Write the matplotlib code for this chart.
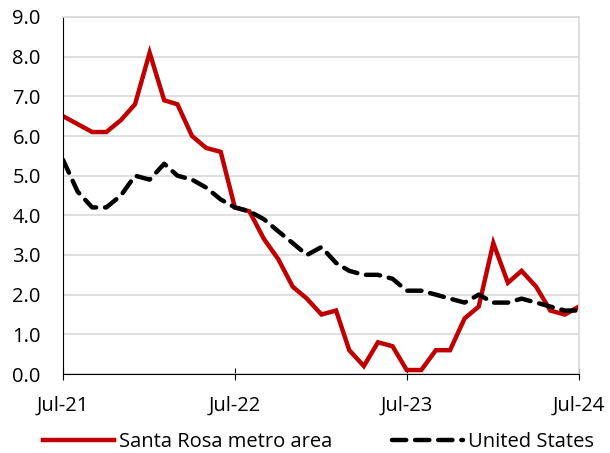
import matplotlib
matplotlib.use("Agg")
import matplotlib.pyplot as plt
import matplotlib.dates as mdates
import pandas as pd

# ── Data (year-over-year %, monthly Jul-21 .. Jul-24) ─────────────────────────
months = pd.date_range("2021-07-01", "2024-07-01", freq="MS")

santa_rosa = [6.5, 6.3, 6.1, 6.1, 6.4, 6.8, 8.1, 6.9, 6.8, 6.0, 5.7, 5.6,
              4.2, 4.1, 3.4, 2.9, 2.2, 1.9, 1.5, 1.6, 0.6, 0.2, 0.8, 0.7,
              0.1, 0.1, 0.6, 0.6, 1.4, 1.7, 3.3, 2.3, 2.6, 2.2, 1.6, 1.5,
              1.7]

united_states = [5.4, 4.6, 4.2, 4.2, 4.5, 5.0, 4.9, 5.3, 5.0, 4.9, 4.7, 4.4,
                 4.2, 4.1, 3.9, 3.6, 3.3, 3.0, 3.2, 2.8, 2.6, 2.5, 2.5, 2.4,
                 2.1, 2.1, 2.0, 1.9, 1.8, 2.0, 1.8, 1.8, 1.9, 1.8, 1.7, 1.6,
                 1.6]

tick_dates = pd.to_datetime(["2021-07-01", "2022-07-01", "2023-07-01", "2024-07-01"])

plt.rcParams["font.family"] = ["Open Sans", "DejaVu Sans"]

fig = plt.figure(figsize=(6.10, 4.53), dpi=100)
ax = fig.add_axes([63 / 610, 79 / 453, 516 / 610, 357 / 453])

ax.plot(months, santa_rosa, color="#c00000", linewidth=3.2,
        solid_joinstyle="miter", label="Santa Rosa metro area")
ax.plot(months, united_states, color="black", linewidth=3.2,
        linestyle=(0, (3.2, 2.0)), dash_capstyle="round",
        label="United States")

ax.set_ylim(0, 9)
ax.set_yticks(range(10))
ax.yaxis.set_major_formatter(plt.FuncFormatter(lambda v, _: f"{v:.1f}"))
ax.set_xlim(months[0], months[-1])
ax.set_xticks(tick_dates)
ax.xaxis.set_major_formatter(mdates.DateFormatter("%b-%y"))

ax.grid(axis="y", color="#d9d9d9", linewidth=1.2)
ax.set_axisbelow(True)

for side in ("top", "right"):
    ax.spines[side].set_color("#d9d9d9")
    ax.spines[side].set_linewidth(1.2)
ax.spines["left"].set_color("black")
ax.spines["bottom"].set_color("black")

ax.tick_params(axis="y", length=0, labelsize=14.5, pad=16)
ax.tick_params(axis="x", direction="inout", length=9, labelsize=14.5, pad=11)

ax.legend(loc="center", bbox_to_anchor=(0.495, -0.19), ncol=2,
          frameon=False, fontsize=14.5, handlelength=3.5, columnspacing=3.0,
          handletextpad=0.25, borderaxespad=0)

fig.savefig("out.png", dpi=100)
